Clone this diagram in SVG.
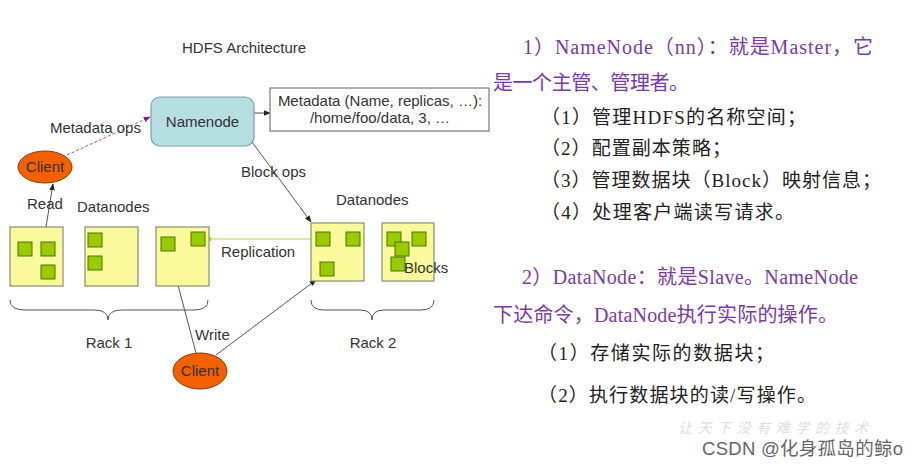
<svg xmlns="http://www.w3.org/2000/svg" width="918" height="464" viewBox="0 0 918 464">
<style>
.lbl{font-family:"Liberation Sans",Arial,sans-serif;font-size:15px;fill:#333}
.dn{fill:#fafa9c;stroke:#8c8c70;stroke-width:1.2}
.blk{fill:#99cc00;stroke:#4e7400;stroke-width:1}
.cl{fill:#f26000;stroke:#8a3a00;stroke-width:1}
.conn{stroke:#555;stroke-width:1;fill:none}
.brace{stroke:#555;stroke-width:1;fill:none}
.pu{font-family:"Liberation Serif","Noto Sans CJK SC",serif;font-size:20px;fill:#7a3aa8}
.bk{font-family:"Liberation Serif","Noto Sans CJK SC",serif;font-size:19px;fill:#222}
</style>
<defs>
<marker id="ah" viewBox="0 0 10 10" refX="9" refY="5" markerWidth="7" markerHeight="7" orient="auto-start-reverse"><path d="M0,1 L10,5 L0,9 z" fill="#222"/></marker>
<marker id="ahp" viewBox="0 0 10 10" refX="9" refY="5" markerWidth="7" markerHeight="7" orient="auto"><path d="M0,1 L10,5 L0,9 z" fill="#8a1a9a"/></marker>
<marker id="ahg" viewBox="0 0 10 10" refX="9" refY="5" markerWidth="5" markerHeight="5" orient="auto-start-reverse"><path d="M0,1 L10,5 L0,9 z" fill="#99dd33"/></marker>
</defs>
<rect width="918" height="464" fill="#fff"/>
<text class="lbl" x="182" y="53">HDFS Architecture</text>

<g id="connectors">
<line x1="254" y1="113" x2="270" y2="113" class="conn" marker-end="url(#ah)"/>
<line x1="67" y1="155" x2="150" y2="117" stroke="#b04ac0" stroke-width="1" stroke-dasharray="3,2" marker-end="url(#ahp)"/>
<line x1="45" y1="233" x2="53" y2="184" class="conn" marker-end="url(#ah)"/>
<line x1="252" y1="142" x2="311" y2="222" class="conn" marker-end="url(#ah)"/>
<line x1="206" y1="239" x2="316" y2="239" stroke="#a6de4a" stroke-width="1.2" marker-start="url(#ahg)" marker-end="url(#ahg)"/>
<line x1="196" y1="353" x2="169" y2="251" class="conn" marker-end="url(#ah)"/>
<line x1="216" y1="355" x2="316" y2="280" class="conn" marker-end="url(#ah)"/>
</g>

<g id="namenode">
<rect x="151" y="97" width="103" height="49" rx="9" fill="#b6dfe2" stroke="#7fa0a4" stroke-width="1.2"/>
<text class="lbl" x="202.5" y="127" text-anchor="middle">Namenode</text>
</g>
<g id="metadata">
<rect x="270" y="88" width="219" height="43" fill="#fff" stroke="#777" stroke-width="1.2"/>
<text class="lbl" x="380" y="106" text-anchor="middle">Metadata (Name, replicas, …):</text>
<text class="lbl" x="380" y="123" text-anchor="middle">/home/foo/data, 3, …</text>
</g>
<g id="client-read">
<ellipse cx="45" cy="167" rx="27" ry="16" class="cl"/>
<text class="lbl" x="45" y="172" text-anchor="middle" fill="#222">Client</text>
</g>
<g id="client-write">
<ellipse cx="200" cy="371" rx="27" ry="18" class="cl"/>
<text class="lbl" x="200" y="376" text-anchor="middle" fill="#222">Client</text>
</g>

<text class="lbl" x="50" y="133">Metadata ops</text>
<text class="lbl" x="27" y="209">Read</text>
<text class="lbl" x="77" y="212">Datanodes</text>
<text class="lbl" x="241" y="177">Block ops</text>
<text class="lbl" x="336" y="205">Datanodes</text>
<text class="lbl" x="221" y="257">Replication</text>
<text class="lbl" x="195" y="340">Write</text>

<g id="dn1">
<rect x="10" y="227" width="53" height="59" class="dn"/>
<rect x="18" y="242" width="14" height="14" class="blk"/>
<rect x="41" y="242" width="14" height="14" class="blk"/>
<rect x="41" y="265" width="14" height="14" class="blk"/>
</g>
<g id="dn2">
<rect x="85" y="227" width="53" height="59" class="dn"/>
<rect x="88" y="233" width="14" height="14" class="blk"/>
<rect x="88" y="256" width="14" height="14" class="blk"/>
</g>
<g id="dn3">
<rect x="156" y="227" width="53" height="59" class="dn"/>
<rect x="161" y="237" width="14" height="14" class="blk"/>
<rect x="191" y="232" width="14" height="14" class="blk"/>
</g>
<g id="dn4">
<rect x="311" y="223" width="53" height="58" class="dn"/>
<rect x="316" y="232" width="14" height="14" class="blk"/>
<rect x="346" y="232" width="14" height="14" class="blk"/>
<rect x="320" y="262" width="14" height="14" class="blk"/>
</g>
<g id="dn5">
<rect x="382" y="223" width="52" height="58" class="dn"/>
<rect x="387" y="232" width="14" height="14" class="blk"/>
<rect x="412" y="232" width="14" height="14" class="blk"/>
<rect x="395" y="242" width="14" height="14" class="blk"/>
<rect x="391" y="257" width="14" height="14" class="blk"/>
<text class="lbl" x="404" y="273">Blocks</text>
</g>

<g id="rack1">
<path class="brace" d="M10,300 Q10,310 25,310 L94,310 Q108,310 108,320 Q108,310 122,310 L194,310 Q208,310 208,300"/>
<text class="lbl" x="109" y="348" text-anchor="middle">Rack 1</text>
</g>
<g id="rack2">
<path class="brace" d="M311,300 Q311,310 324,310 L360,310 Q372,310 372,320 Q372,310 384,310 L421,310 Q434,310 434,300"/>
<text class="lbl" x="373" y="348" text-anchor="middle">Rack 2</text>
</g>

<g id="notes">
<text class="pu" x="523" y="54" textLength="350" lengthAdjust="spacing">1）NameNode（nn）：就是Master，它</text>
<text class="pu" x="493" y="90" textLength="196" lengthAdjust="spacing">是一个主管、管理者。</text>
<text class="bk" x="541" y="124" textLength="265" lengthAdjust="spacing">（1）管理HDFS的名称空间；</text>
<text class="bk" x="541" y="155" textLength="190" lengthAdjust="spacing">（2）配置副本策略；</text>
<text class="bk" x="541" y="187" textLength="340" lengthAdjust="spacing">（3）管理数据块（Block）映射信息；</text>
<text class="bk" x="541" y="219" textLength="253" lengthAdjust="spacing">（4）处理客户端读写请求。</text>
<text class="pu" x="522" y="284" textLength="336" lengthAdjust="spacing">2）DataNode：就是Slave。NameNode</text>
<text class="pu" x="493" y="322" textLength="345" lengthAdjust="spacing">下达命令，DataNode执行实际的操作。</text>
<text class="bk" x="538" y="360" textLength="236" lengthAdjust="spacing">（1）存储实际的数据块；</text>
<text class="bk" x="538" y="402" textLength="278" lengthAdjust="spacing">（2）执行数据块的读/写操作。</text>
</g>
<text x="678" y="433" font-family="'Noto Sans CJK SC',sans-serif" font-size="14" fill="#dedede" font-style="italic" textLength="190" lengthAdjust="spacing">让天下没有难学的技术</text>
<text x="702" y="455" font-family="'Liberation Sans','Noto Sans CJK SC',sans-serif" font-size="18.5" fill="#666" textLength="201" lengthAdjust="spacing">CSDN @化身孤岛的鲸o</text>
</svg>
